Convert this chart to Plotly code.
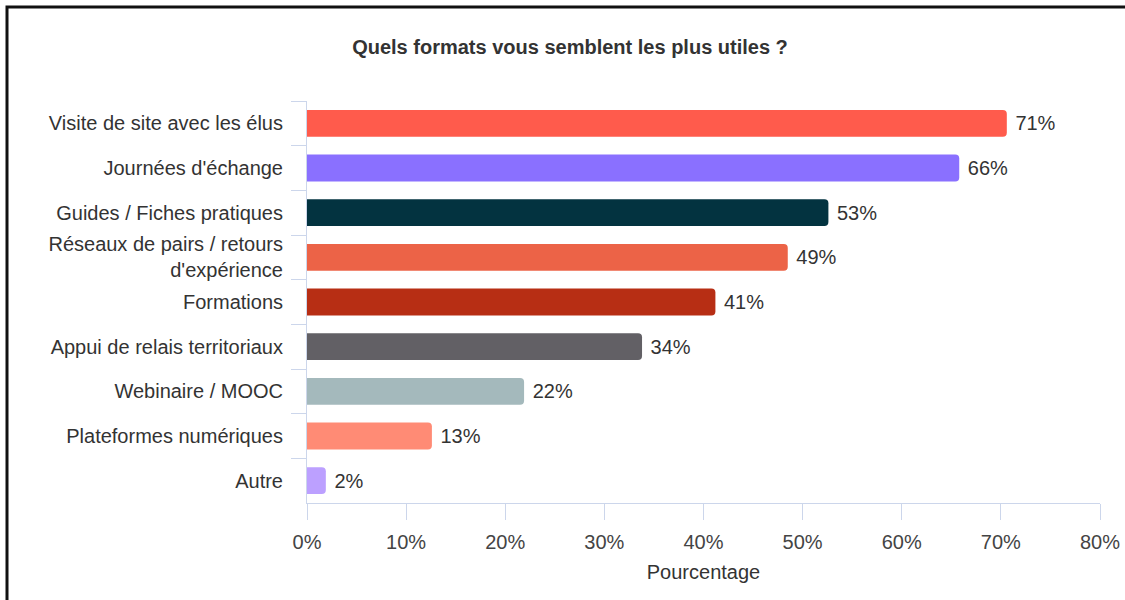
import plotly.graph_objects as go

categories = [
    "Visite de site avec les élus",
    "Journées d'échange",
    "Guides / Fiches pratiques",
    "Réseaux de pairs / retours<br>d'expérience",
    "Formations",
    "Appui de relais territoriaux",
    "Webinaire / MOOC",
    "Plateformes numériques",
    "Autre",
]
values = [70.6, 65.8, 52.6, 48.5, 41.2, 33.8, 21.9, 12.6, 1.9]
value_labels = ["71%", "66%", "53%", "49%", "41%", "34%", "22%", "13%", "2%"]
colors = ["#FF5B4C", "#8A70FF", "#033340", "#EC6347", "#B72E14",
          "#626065", "#A4B9BC", "#FF8B75", "#BCA0FF"]
x_ticks = [0, 10, 20, 30, 40, 50, 60, 70, 80]

W, H = 1125, 600
L, R, T, B = 307, 25, 101, 97
FONT = "Liberation Sans, Arial, sans-serif"
AXIS_COLOR = "#ccd6eb"

fig = go.Figure(go.Bar(
    y=categories,
    x=values,
    orientation="h",
    marker=dict(color=colors, line=dict(width=0)),
    text=["\u00a0" + t for t in value_labels],
    textposition="outside",
    textfont=dict(size=20, color="#333333", family=FONT),
    cliponaxis=False,
    hoverinfo="skip",
))

pw = W - L - R
ph = H - T - B
fig.add_shape(
    type="rect", xref="paper", yref="paper",
    x0=(7 - L) / pw, x1=(W + 10 - L) / pw,
    y0=-(H + 10 - T - ph) / ph, y1=1 + (T - 7) / ph,
    line=dict(color="#111111", width=3), layer="above",
)

fig.update_layout(
    width=W, height=H,
    margin=dict(l=L, r=R, t=T, b=B, autoexpand=False),
    paper_bgcolor="white", plot_bgcolor="white",
    font=dict(family=FONT, size=20, color="#333333"),
    bargap=0.4,
    barcornerradius=4,
    showlegend=False,
    title=dict(
        text="<b>Quels formats vous semblent les plus utiles ?</b>",
        x=570 / W, xref="container", xanchor="center",
        y=1 - 47 / H, yref="container", yanchor="middle",
        font=dict(size=20, color="#333333", family=FONT),
    ),
    xaxis=dict(
        range=[0, 80],
        tickvals=x_ticks,
        ticktext=[f"{v}%" for v in x_ticks],
        showgrid=False, zeroline=False,
        showline=True, linecolor=AXIS_COLOR, linewidth=1,
        ticks="outside", ticklen=16, tickcolor=AXIS_COLOR, tickwidth=1,
        ticklabelstandoff=5,
        tickfont=dict(size=20, color="#444444"),
        title=dict(text="Pourcentage", standoff=12,
                   font=dict(size=20, color="#333333")),
    ),
    yaxis=dict(
        autorange="reversed",
        showgrid=False, zeroline=False,
        showline=True, linecolor=AXIS_COLOR, linewidth=1,
        ticks="outside", ticklen=15, tickcolor=AXIS_COLOR, tickwidth=1,
        tickson="boundaries",
        ticklabelstandoff=19,
        tickfont=dict(size=20, color="#333333"),
    ),
)

fig.write_html(
    "out.html",
    config={"displayModeBar": False, "staticPlot": True},
    post_script="document.body.style.margin='0';document.body.style.padding='0';",
)
